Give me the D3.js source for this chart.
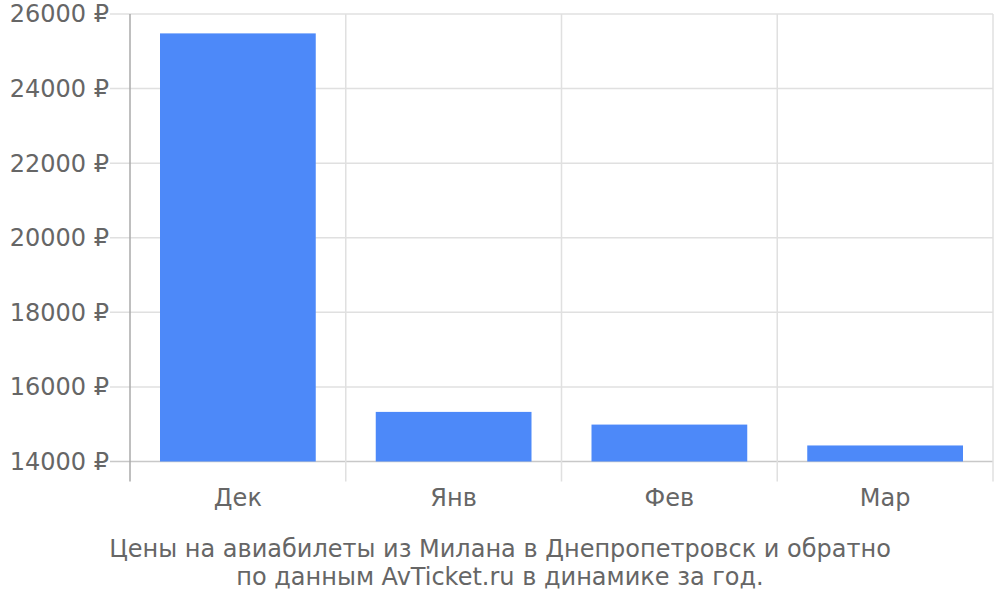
<!DOCTYPE html>
<html>
<head>
<meta charset="utf-8">
<script src="https://cdn.jsdelivr.net/npm/d3@7"></script>
<style>
  body { margin: 0; background: #fff; }
  text { font-family: "DejaVu Sans", sans-serif; fill: #666; }
</style>
</head>
<body>
<div id="chart"></div>
<script>
// данные
const months = ['Дек', 'Янв', 'Фев', 'Мар'];
const prices = [25480, 15330, 14990, 14430];
const yTicks = [14000, 16000, 18000, 20000, 22000, 24000, 26000];
const titleLines = [
  'Цены на авиабилеты из Милана в Днепропетровск и обратно',
  'по данным AvTicket.ru в динамике за год.'
];

const width = 1000, height = 600;
const plotLeft = 130, plotRight = 993, plotTop = 14, plotBottom = 461.5;

const svg = d3.select('#chart').append('svg')
  .attr('width', width)
  .attr('height', height);

const x = d3.scaleBand().domain(months).range([plotLeft, plotRight]).paddingInner(0).paddingOuter(0);
const y = d3.scaleLinear().domain([14000, 26000]).range([plotBottom, plotTop]);

// горизонтальная сетка
svg.append('g')
  .selectAll('line')
  .data(yTicks)
  .enter()
  .append('line')
  .attr('x1', plotLeft - 20)
  .attr('x2', plotRight)
  .attr('y1', d => y(d))
  .attr('y2', d => y(d))
  .attr('stroke', d => d === 14000 ? '#c8c8c8' : '#e0e0e0')
  .attr('stroke-width', 1.5);

// вертикальная сетка (границы категорий)
const bounds = months.map(m => x(m)).concat([plotRight]);
svg.append('g')
  .selectAll('line')
  .data(bounds)
  .enter()
  .append('line')
  .attr('x1', d => d)
  .attr('x2', d => d)
  .attr('y1', plotTop)
  .attr('y2', plotBottom + 20)
  .attr('stroke', (d, i) => i === 0 ? '#aaaaaa' : '#e0e0e0')
  .attr('stroke-width', 1.5);

// столбцы
const barPad = 30;
svg.append('g')
  .selectAll('rect')
  .data(prices)
  .enter()
  .append('rect')
  .attr('x', (d, i) => x(months[i]) + barPad)
  .attr('width', x.bandwidth() - barPad * 2)
  .attr('y', d => y(d))
  .attr('height', d => y(14000) - y(d))
  .attr('fill', '#4d89f9');

// подписи оси Y
svg.append('g')
  .selectAll('text')
  .data(yTicks)
  .enter()
  .append('text')
  .attr('x', plotLeft - 21)
  .attr('y', d => y(d))
  .attr('dy', '0.35em')
  .attr('text-anchor', 'end')
  .style('font-size', '24px')
  .text(d => d + ' ₽');

// подписи оси X
svg.append('g')
  .selectAll('text')
  .data(months)
  .enter()
  .append('text')
  .attr('x', d => x(d) + x.bandwidth() / 2)
  .attr('y', 506)
  .attr('text-anchor', 'middle')
  .style('font-size', '24px')
  .text(d => d);

// заголовок снизу
svg.append('g')
  .selectAll('text')
  .data(titleLines)
  .enter()
  .append('text')
  .attr('x', 500)
  .attr('y', (d, i) => 557 + i * 28)
  .attr('text-anchor', 'middle')
  .style('font-size', '24px')
  .text(d => d);
</script>
</body>
</html>
